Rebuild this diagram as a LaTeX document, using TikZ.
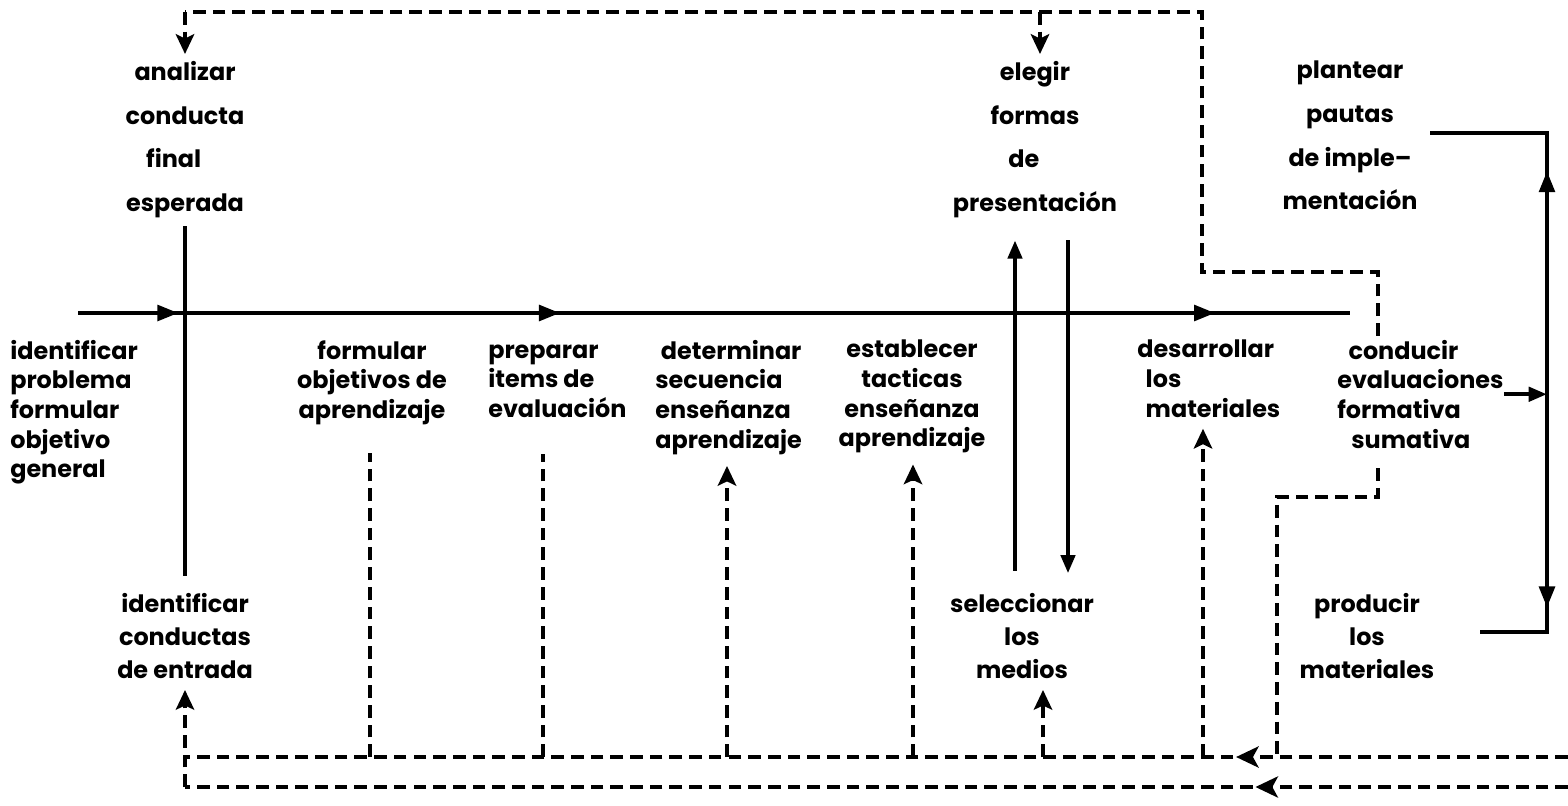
\documentclass[tikz,border=0pt]{standalone}
\usepackage{fontspec}
\setmainfont{Poppins}
\usepackage{tikz}
\usetikzlibrary{arrows.meta,decorations.markings}

\newcommand{\tp}{\rule{0pt}{12.6pt}}

\tikzset{
  lbl/.style={align=center, inner sep=0pt, font=\fontsize{17}{21}\selectfont\bfseries},
  toplbl/.style={lbl, font=\fontsize{17}{31}\selectfont\bfseries},
  botlbl/.style={lbl, font=\fontsize{17}{23.4}\selectfont\bfseries},
  flow/.style={line width=3pt},
  back/.style={line width=2.8pt, dash pattern=on 9pt off 5pt},
  tip/.style={-{Triangle[length=13pt,width=10pt]}},
  backtip/.style={-{Stealth[length=14pt,width=13pt,inset=3pt]}},
  arrowat/.style={postaction={decorate, decoration={markings,
    mark=at position #1 with {\arrow{Triangle[length=15pt,width=11pt]}}}}},
  backat/.style={postaction={decorate, decoration={markings,
    mark=at position #1 with {\arrow{Stealth[length=16pt,width=15pt,inset=4pt]}}}}}
}

\begin{document}
\begin{tikzpicture}[x=0.025cm, y=-0.025cm]
  \useasboundingbox (0,0) rectangle (1568,805);

  % Top labels
  \node[toplbl, anchor=north] (analizar) at (185,61) {analizar\\conducta\\final\rule{16pt}{0pt}\\esperada};
  \node[toplbl, anchor=north] (elegir) at (1035,61) {elegir\\formas\\de\rule{16pt}{0pt}\\presentación};
  \node[toplbl, anchor=north] (plantear) at (1350,61) {plantear\\pautas\\de imple--\\mentación};

  % Middle labels
  \node[lbl, anchor=north west, align=left] (problema) at (10,340) {identificar\\problema\\formular\\objetivo\\general};
  \node[lbl, anchor=north] (formular) at (372,340) {formular\\objetivos de\\aprendizaje};
  \node[lbl, anchor=north west, align=left] (preparar) at (488,340) {\tp preparar\\items de\\evaluación};
  \node[lbl, anchor=north west, align=left] (secuencia) at (655,340) {\hspace{4pt}determinar\\secuencia\\enseñanza\\aprendizaje};
  \node[lbl, anchor=north] (tacticas) at (912,340) {establecer\\tacticas\\enseñanza\\aprendizaje};
  \node[lbl, anchor=north west, align=left] (desarrollar) at (1137,340) {desarrollar\\\hspace{6pt}los\\\hspace{6pt}materiales};
  \node[lbl, anchor=north west, align=left] (conducir) at (1337,340) {\hspace{8pt}conducir\\evaluaciones\\formativa\\\hspace{10pt}sumativa};

  % Bottom labels
  \node[botlbl, anchor=north] (entrada) at (185,593) {identificar\\conductas\\de entrada};
  \node[botlbl, anchor=north] (medios) at (1022,593) {seleccionar\\los\\medios};
  \node[botlbl, anchor=north] (producir) at (1367,593) {producir\\los\\materiales};

  % Corner points
  \coordinate (in) at (78,313);
  \coordinate (out) at (1350,313);
  \coordinate (up) at (1015,313);
  \coordinate (down) at (1068,313);
  \coordinate (t0) at (185,12);
  \coordinate (t1) at (1040,12);
  \coordinate (t2) at (1202,12);
  \coordinate (t3) at (1202,272);
  \coordinate (t4) at (1378,272);
  \coordinate (s1) at (1277,497);
  \coordinate (s2) at (1378,497);
  \coordinate (r) at (conducir.east -| 1547,0);
  \coordinate (pa) at (1430,133);
  \coordinate (pr) at (1480,632);
  \coordinate (b1r) at (1568,757);
  \coordinate (b1l) at (185,757);
  \coordinate (b2r) at (1568,787);
  \coordinate (b2l) at (185,787);

  % Main line
  \draw[flow, arrowat=0.079, arrowat=0.379, arrowat=0.894] (in) -- (out);
  \draw[flow, shorten <=6pt, shorten >=12pt] (analizar.south) -- (analizar.south |- entrada.north);
  \draw[flow, tip, shorten <=16pt, shorten >=16pt] (up |- medios.north) -- (up |- elegir.south);
  \draw[flow, tip, shorten <=16pt, shorten >=14pt] (down |- elegir.south) -- (down |- medios.north);

  % Right loop
  \draw[flow, tip] (conducir.east) -- (r);
  \draw[flow, arrowat=0.59] (r) -- (r |- pa) -- (pa);
  \draw[flow, arrowat=0.70] (r) -- (r |- pr) -- (pr);

  % Feedback lines
  \draw[back, shorten <=3pt] (t4 |- conducir.north) -- (t4) -- (t3) -- (t2) -- (t0);
  \draw[back, backtip, shorten >=5pt] (t0) -- (analizar.north);
  \draw[back, backtip, shorten >=5pt] (t1) -- (t1 |- elegir.north);
  \draw[back, shorten <=14pt] (s2 |- conducir.south) -- (s2) -- (s1) -- (s1 |- b1r);
  \draw[back, backat=0.24] (b1r) -- (b1l);
  \draw[back, backat=0.226] (b2r) -- (b2l);
  \draw[back, backtip, shorten >=8pt] (b2l) -- (b2l |- entrada.south);

  % Dashed verticals
  \foreach \n/\x/\s in {formular/370/20pt, preparar/543/26pt}
    \draw[back, shorten >=\s] (\x,757) -- (\x,757 |- \n.south);
  \foreach \n/\x in {secuencia/727, tacticas/913, desarrollar/1203, medios/1043}
    \draw[back, backtip, shorten >=8pt] (\x,757) -- (\x,757 |- \n.south);
\end{tikzpicture}
\end{document}
